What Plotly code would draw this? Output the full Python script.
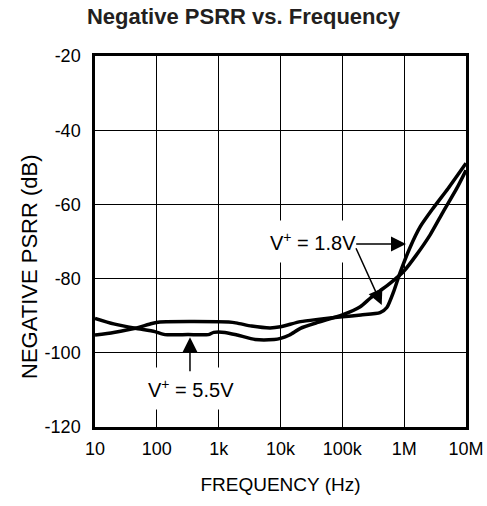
import plotly.graph_objects as go

# data (frequency in Hz, PSRR in dB)
freq_55 = [10, 20, 45, 93, 135, 320, 680, 830, 1260, 2000, 3900, 7900, 10000,
           14000, 21000, 40000, 100000, 195000, 282000, 407000, 589000, 977000,
           1580000, 2630000, 4270000, 7080000, 10000000]
psrr_55 = [-90.7, -92.2, -93.4, -94.3, -95.1, -95.1, -95.1, -94.5, -94.5, -95.2,
           -96.4, -96.4, -96.1, -95.2, -93.4, -91.8, -89.8, -87.6, -85.3, -83.3,
           -81.3, -78.1, -73.6, -68.2, -62.0, -55.7, -50.8]

freq_18 = [10, 20, 45, 83, 112, 1450, 2000, 3400, 6800, 10000, 21000, 40000,
           100000, 200000, 407000, 525000, 676000, 851000, 1230000, 1820000,
           2950000, 5130000, 10000000]
psrr_18 = [-95.2, -94.5, -93.4, -92.1, -91.7, -91.7, -92.0, -92.8, -93.3, -93.0,
           -91.6, -91.0, -90.3, -89.8, -89.2, -87.8, -83.5, -78.6, -71.8, -66.0,
           -61.0, -55.7, -48.9]

x_tickvals = [10, 100, 1e3, 1e4, 1e5, 1e6, 1e7]
x_ticktext = ["10", "100", "1k", "10k", "100k", "1M", "10M"]
y_tickvals = [-120, -100, -80, -60, -40, -20]
y_ticktext = ["-120", "-100", "-80", "-60", "-40", "-20"]

FONT = "Liberation Sans, Arial, Helvetica, sans-serif"

fig = go.Figure()
for f, p, name in [(freq_55, psrr_55, "5.5V"), (freq_18, psrr_18, "1.8V")]:
    fig.add_trace(go.Scatter(
        x=f, y=p, mode="lines", name=name,
        line=dict(color="black", width=3.5, shape="spline", smoothing=0.6),
        showlegend=False))

axis_common = dict(showline=True, linecolor="black", linewidth=2.5, mirror=True,
                   showgrid=True, gridcolor="black", gridwidth=1.3,
                   ticks="", zeroline=False, automargin=False,
                   tickfont=dict(family=FONT, size=18, color="black"))

fig.update_xaxes(type="log", range=[1, 7], tickvals=x_tickvals, ticktext=x_ticktext,
                 ticklabelstandoff=4,
                 title=dict(text="FREQUENCY (Hz)", standoff=20,
                            font=dict(family=FONT, size=19, color="black")),
                 **axis_common)
fig.update_yaxes(range=[-120, -20], tickvals=y_tickvals, ticktext=y_ticktext,
                 ticklabelstandoff=8, **axis_common)

# y title sits a little below the plot centre in the reference
fig.add_annotation(text="NEGATIVE PSRR (dB)", textangle=-90,
                   x=(29 - 95) / (487 - 95 - 21), y=(506 - 79 - 267) / (506 - 56 - 79),
                   xref="paper", yref="paper", xanchor="center", yanchor="middle",
                   showarrow=False, font=dict(family=FONT, size=22, color="black"))

# callout labels and arrows (x in log10 units for the log axis)
lbl_font = dict(family=FONT, size=20, color="black")
fig.add_annotation(x=4.53, y=-70.1, text="V<sup>+</sup> = 1.8V", showarrow=False,
                   bgcolor="white", borderpad=8, font=lbl_font)
fig.add_annotation(x=2.55, y=-109.5, text="V<sup>+</sup> = 5.5V", showarrow=False,
                   bgcolor="white", borderpad=8, font=lbl_font)
arrows = [
    (6.03, -70.7, 5.2, -70.7),
    (5.637, -87.1, 5.21, -71.4),
    (2.536, -95.8, 2.536, -105.4),
]
for x, y, ax, ay in arrows:
    fig.add_annotation(x=x, y=y, ax=ax, ay=ay, xref="x", yref="y", axref="x", ayref="y",
                       text="", showarrow=True, arrowhead=2, arrowsize=2,
                       arrowwidth=1.5, arrowcolor="black", standoff=0)

fig.update_layout(
    width=487, height=506,
    margin=dict(l=95, r=21, t=56, b=79),
    paper_bgcolor="white", plot_bgcolor="white",
    title=dict(text="<b>Negative PSRR vs. Frequency</b>", x=0.5, xanchor="center",
               y=1 - 16 / 506, yanchor="middle", yref="container",
               font=dict(family=FONT, size=22, color="#231f20")),
)

fig.write_html("out.html", config={"displayModeBar": False},
               post_script="document.body.style.margin='0';document.body.style.overflow='hidden';")
